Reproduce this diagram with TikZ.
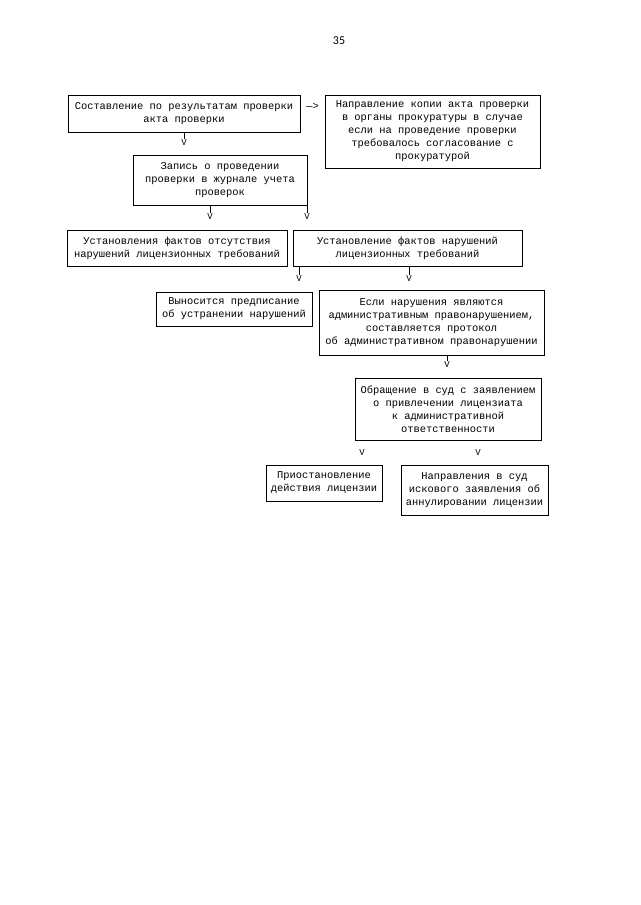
\documentclass[tikz,border=0pt]{standalone}
\usepackage{fontspec}
\setmainfont{Liberation Mono}
\newfontfamily\numfont{Carlito}

\begin{document}
\begin{tikzpicture}[x=1pt, y=-1pt,
  box/.style={draw, line width=0.9pt, align=center, inner sep=0pt,
    font=\fontsize{10.4}{13}\selectfont},
  vmark/.style={inner sep=0.6pt, font=\fontsize{9}{10}\selectfont},
  tick/.style={line width=0.8pt}]
  \useasboundingbox (0,0) rectangle (640,905);
  \node[font=\numfont\fontsize{12}{14}\selectfont] (num) at (339,41) {35};
  \node[box, minimum width=232, minimum height=37] (prot) at (184,113.5)
    {Составление по результатам проверки\\акта проверки};
  \node[box, minimum width=215, minimum height=73] (prok) at (432.5,131.5)
    {Направление копии акта проверки\\в органы прокуратуры в случае\\если на проведение проверки\\требовалось согласование с\\прокуратурой};
  \node[box, minimum width=174, minimum height=50] (zhurnal) at (220,180)
    {Запись о проведении\\проверки в журнале учета\\проверок};
  \node[box, minimum width=220, minimum height=36] (otsut) at (177,248)
    {Установления фактов отсутствия\\нарушений лицензионных требований};
  \node[box, minimum width=229, minimum height=36] (narush) at (407.5,248)
    {Установление фактов нарушений\\лицензионных требований};
  \node[box, minimum width=156, minimum height=34] (predp) at (234,309)
    {Выносится предписание\\об устранении нарушений};
  \node[box, minimum width=225, minimum height=65] (admin) at (431.5,322.5)
    {Если нарушения являются\\административным правонарушением,\\составляется протокол\\об административном правонарушении};
  \node[box, minimum width=186, minimum height=62] (sud) at (448,409)
    {Обращение в суд с заявлением\\о привлечении лицензиата\\к административной\\ответственности};
  \node[box, minimum width=116, minimum height=36] (priost) at (324,483)
    {Приостановление\\действия лицензии};
  \node[box, minimum width=147, minimum height=50] (annul) at (474.5,490)
    {Направления в суд\\искового заявления об\\аннулировании лицензии};
  % text arrow between the first two boxes
  \node[inner sep=0pt, font=\fontsize{10.4}{13}\selectfont] (arr) at (312.5,106) {—>};
  % V marks
  \node[vmark] (v1) at (184,143) {V};
  \node[vmark] (v2) at (210,217) {V};
  \node[vmark] (v3) at (307,217) {V};
  \node[vmark] (v4) at (299,279) {V};
  \node[vmark] (v5) at (409,279) {V};
  \node[vmark] (v6) at (447,365) {V};
  \node[vmark] (v7) at (362,453) {V};
  \node[vmark] (v8) at (478,453) {V};
  \draw[tick] (v1.north |- prot.south) -- (v1.north);
  \draw[tick] (v2.north |- zhurnal.south) -- (v2.north);
  \draw[tick] (v3.north |- zhurnal.south) -- (v3.north);
  \draw[tick] (v4.north |- narush.south) -- (v4.north);
  \draw[tick] (v5.north |- narush.south) -- (v5.north);
  \draw[tick] (v6.north |- admin.south) -- (v6.north);
\end{tikzpicture}
\end{document}
